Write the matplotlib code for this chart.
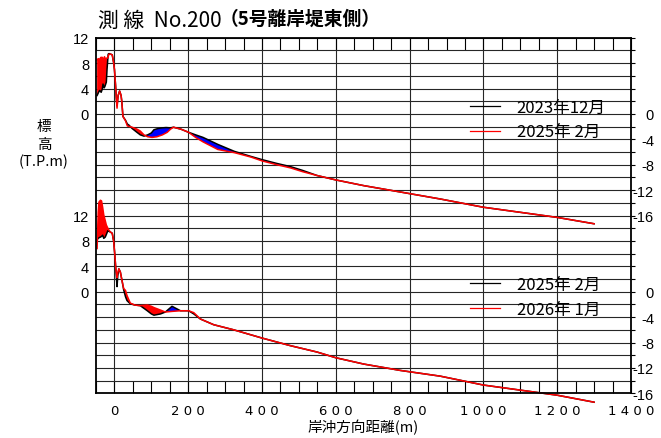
import numpy as np
import matplotlib.pyplot as plt
from matplotlib.lines import Line2D
from matplotlib.legend import Legend

plt.rcParams["font.family"] = ["Noto Sans CJK JP", "DejaVu Sans"]

# upper profile pair: 2023年12月 (black) / 2025年 2月 (red)
top_old_x = [-47, -43, -40, -36, -33, -31, -28, -26, -22, -20, -17, -15, -10, -6, -2, 0, 3, 5, 7, 10,
             14, 18, 20, 23, 30, 35, 40, 48, 61, 70, 80, 90, 100, 107, 118, 129, 140, 152, 160, 180,
             201, 220, 240, 280, 325, 370, 400, 440, 477, 510, 549, 600, 676, 775, 883, 1000, 1100,
             1200, 1300]
top_old_y = [2.9, 3.4, 3.7, 3.4, 3.9, 4.7, 4.1, 4.3, 5.0, 7.1, 9.4, 9.5, 9.4, 9.3, 8.0, 7.0, 4.5, 2.5,
             1.3, 2.9, 3.6, 2.9, 1.9, -0.4, -1.0, -1.6, -1.8, -2.3, -2.9, -3.3, -3.5, -3.3, -3.0, -2.5,
             -2.3, -2.2, -2.15, -2.2, -2.1, -2.4, -2.9, -3.3, -3.7, -4.8, -5.9, -6.7, -7.2, -7.8, -8.3,
             -8.9, -9.7, -10.4, -11.3, -12.3, -13.4, -14.7, -15.5, -16.3, -17.3]
top_new_x = [-47, -44, -40, -37, -33, -30, -27, -24, -21, -18, -15, -10, -6, -2, 0, 3, 5, 7, 10, 14,
             18, 20, 23, 30, 35, 48, 61, 70, 80, 90, 102, 115, 130, 143, 152, 160, 180, 201, 220, 240,
             280, 325, 370, 400, 440, 477, 510, 549, 600, 676, 775, 883, 1000, 1100, 1200, 1300]
top_new_y = [8.5, 8.7, 8.6, 8.9, 8.9, 8.5, 9.0, 8.6, 8.8, 8.8, 9.4, 9.4, 9.3, 8.0, 7.0, 4.5, 2.5, 0.9,
             2.9, 3.6, 2.9, 1.9, -0.4, -1.1, -1.9, -2.1, -2.4, -2.7, -3.3, -3.6, -3.7, -3.6, -3.3,
             -2.9, -2.4, -2.1, -2.4, -2.9, -3.7, -4.4, -5.6, -6.1, -6.8, -7.4, -8.0, -8.5, -9.1, -9.7,
             -10.4, -11.3, -12.3, -13.4, -14.7, -15.5, -16.3, -17.3]
top_labels = ["2023年12月", "2025年 2月"]

# lower profile pair: 2025年 2月 (black) / 2026年 1月 (red)
bot_x = [-47, -44, -42, -38, -35, -32, -29, -25, -22, -18, -15, -11, -6, -2, 1, 3.6, 7, 9, 12, 16,
         21, 25, 30, 34, 43, 55, 70, 89, 100, 107, 116, 125, 138, 156, 179, 201, 215, 224, 233, 269,
         323, 400, 477, 549, 600, 676, 775, 883, 1000, 1100, 1200, 1300]
bot_old_y = [8.2, 8.4, 8.5, 8.6, 8.7, 8.9, 8.4, 8.6, 9.0, 9.6, 9.5, 9.4, 9.2, 7.9, 5.8, 3.7, 0.8,
             2.5, 3.6, 3.1, 1.6, 0.3, -0.8, -1.4, -1.9, -2.1, -2.2, -3.0, -3.5, -3.7, -3.6, -3.5,
             -3.2, -2.3, -3.0, -3.0, -3.5, -3.9, -4.3, -5.2, -6.0, -7.3, -8.5, -9.5, -10.4, -11.4,
             -12.4, -13.3, -14.7, -15.5, -16.3, -17.4]
bot_new_y = [6.8, 12.5, 14.1, 14.4, 14.3, 13.3, 12.1, 11.2, 10.5, 10.0, 9.7, 9.4, 9.2, 7.9, 5.8,
             3.7, 2.2, 3.0, 3.6, 3.1, 1.6, 0.5, 0.2, -0.6, -1.8, -2.1, -2.2, -2.1, -2.3, -2.5, -2.7,
             -2.9, -3.2, -3.1, -3.0, -3.0, -3.3, -3.8, -4.3, -5.2, -6.0, -7.3, -8.5, -9.5, -10.4,
             -11.4, -12.4, -13.3, -14.7, -15.5, -16.3, -17.4]
bot_labels = ["2025年 2月", "2026年 1月"]

x_ticks = [0, 200, 400, 600, 800, 1000, 1200, 1400]
left_ticks = [12, 8, 4, 0]
right_ticks = [0, -4, -8, -12, -16]

OFFSET = 28  # lower panel is drawn 28 m below the upper one
Y_TOP, Y_BOT = 12, -44

fig = plt.figure(figsize=(6.61, 4.39), dpi=100)
ax = fig.add_axes([96 / 661, 1 - 394.3 / 439, 535 / 661, 355.6 / 439])


def draw_pair(xo, yo, xn, yn, shift):
    xs = np.union1d(xo, xn)
    yo_i = np.interp(xs, xo, yo) - shift
    yn_i = np.interp(xs, xn, yn) - shift
    ax.fill_between(xs, yo_i, yn_i, where=yn_i >= yo_i, interpolate=True, color="#FF0000", lw=0)
    ax.fill_between(xs, yo_i, yn_i, where=yn_i < yo_i, interpolate=True, color="#0000FF", lw=0)
    ax.plot(xo, np.array(yo) - shift, color="black", lw=1.1, clip_on=False)
    ax.plot(xn, np.array(yn) - shift, color="#FF0000", lw=1.1, clip_on=False)


draw_pair(top_old_x, top_old_y, top_new_x, top_new_y, 0)
draw_pair(bot_x, bot_old_y, bot_x, bot_new_y, OFFSET)

ax.set_xlim(-50, 1400)
ax.set_ylim(Y_BOT, Y_TOP)

# x axis: labelled every 200 m, small ticks every 50 m in the top/bottom rows
ax.set_xticks(x_ticks, [" ".join(str(v)) for v in x_ticks], family="DejaVu Sans", fontsize=9.5)
ax.set_xticks(np.arange(-50, 1401, 50), minor=True)
ax.tick_params(axis="x", which="both", direction="in", length=8.5, width=0.8,
               top=True, bottom=True, pad=8)

# y grid every 2 m, labels only where the original puts them
yt = np.arange(Y_BOT, Y_TOP + 1, 2)
left_lab = {v: str(v) for v in left_ticks}
left_lab.update({v - OFFSET: str(v) for v in left_ticks})
ax.set_yticks(yt, [left_lab.get(v, "") for v in yt], family="Liberation Sans", fontsize=10.5)
ax.tick_params(axis="y", direction="in", length=0, pad=5)

ax.grid(True, color="0.15", lw=0.8)
ax.set_axisbelow(True)
for s in ax.spines.values():
    s.set_linewidth(1.3)

ax2 = ax.twinx()
ax2.set_ylim(Y_BOT, Y_TOP)
right_lab = {v: str(v) for v in right_ticks}
right_lab.update({v - OFFSET: str(v) for v in right_ticks})
ax2.set_yticks(yt, [right_lab.get(v, "") for v in yt], family="Liberation Sans", fontsize=10.5)
ax2.tick_params(axis="y", direction="out", length=3, width=0.8, pad=13.5)
for lab in ax2.get_yticklabels():
    lab.set_horizontalalignment("right")
for s in ax2.spines.values():
    s.set_visible(False)


def add_legend(labels, top):
    handles = [Line2D([], [], color="black", lw=0.9), Line2D([], [], color="#FF0000", lw=0.9)]
    leg = Legend(ax2, handles, labels, loc="upper left", bbox_to_anchor=(0.699, top),
                 frameon=False, fontsize=12, handlelength=1.8, handletextpad=1.0,
                 labelspacing=0.45, borderpad=0, borderaxespad=0)
    ax2.add_artist(leg)


add_legend(top_labels, 0.828)
add_legend(bot_labels, 0.33)

fig.text(98 / 661, 1 - 21 / 439, "測 線  No.200", fontsize=15, va="center")
fig.text(220 / 661, 1 - 19 / 439, "（5号離岸堤東側）", fontsize=13.5, fontweight="bold", va="center")
fig.text(44 / 661, 1 - 145 / 439, "標\n高\n(T.P.m)", fontsize=10.5, ha="center", va="center",
         linespacing=1.3)
fig.text(363 / 661, 1 - 428 / 439, "岸沖方向距離(m)", fontsize=10.5, ha="center", va="center")

fig.savefig("out.png", dpi=100)
